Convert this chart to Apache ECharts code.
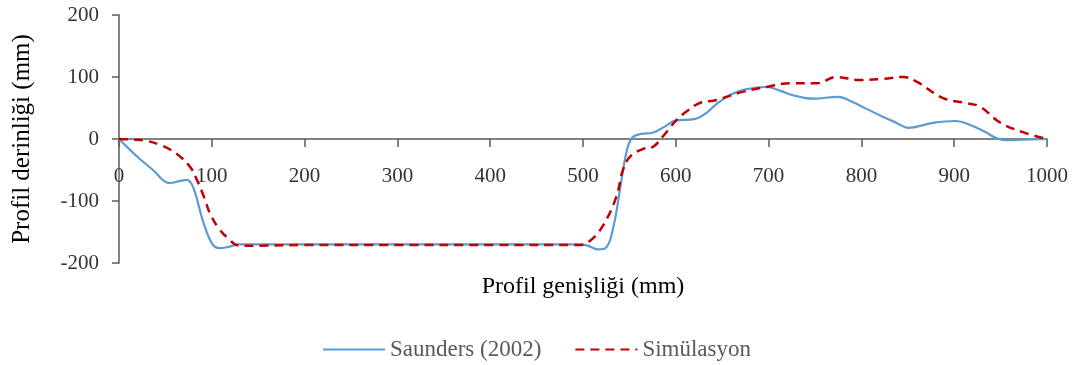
<!DOCTYPE html>
<html><head><meta charset="utf-8">
<script src="https://cdn.jsdelivr.net/npm/echarts@6/dist/echarts.min.js"></script>
<style>html,body{margin:0;padding:0;background:#fff}#c{width:1073px;height:365px}</style>
</head><body><div id="c"></div>
<script>
const saundersX=[0,20,38,48,55,65,73,80,90,100,108,118,130,200,300,400,495,505,516,525,533,540,547,553,562,575,588,600,620,633,645,660,675,698,712,725,748,775,790,805,823,838,850,877,901,920,935,946,957,975,1000];
const saundersY=[0,-29,-52,-67,-71,-68,-66,-78,-130,-168,-176,-174,-170,-170,-170,-170,-170,-172,-178,-175,-140,-80,-20,2,8,10,20,30,32,42,58,72,80,84,78,71,65,68,60,49,36,26,18,26,29,21,10,1,-2,-1,0];
const simX=[0,15,30,45,55,68,78,84,92,98,107,116,130,150,200,300,400,495,507,521,536,543,551,565,576,586,601,613,626,644,672,698,723,752,773,798,823,845,860,888,913,928,949,974,1000];
const simY=[0,-1,-3,-10,-17,-31,-48,-66,-95,-120,-143,-158,-172,-172,-171,-171,-171,-171,-165,-141,-93,-50,-28,-16,-12,4,31,46,58,63,76,84,90,90,100,95,97,100,92,66,58,52,27,11,0];
const seriesNames=['Saunders (2002)','Simülasyon'];
const xName='Profil genişliği (mm)', yName='Profil derinliği (mm)';
const zip=(a,b)=>a.map((v,i)=>[v,b[i]]);
const font='"Liberation Serif","Times New Roman",serif';
const chart=echarts.init(document.getElementById('c'));
chart.setOption({
  animation:false,
  grid:{left:119,right:26,top:15,bottom:102,containLabel:false,outerBoundsMode:'none'},
  legend:{top:333,left:'center',itemWidth:62,itemHeight:12,itemGap:33,
    itemStyle:{opacity:0},
    textStyle:{fontFamily:font,fontSize:23,color:'#595959'},
    data:seriesNames},
  xAxis:{type:'value',min:0,max:1000,interval:100,
    name:xName,nameLocation:'middle',nameGap:12,
    nameTextStyle:{fontFamily:font,fontSize:24,color:'#000'},
    axisLine:{onZero:true,lineStyle:{color:'#5a5a5a',width:1.5}},
    axisTick:{show:true,inside:false,length:8,lineStyle:{color:'#5a5a5a',width:1.5}},
    axisLabel:{fontFamily:font,fontSize:21,color:'#333',margin:-97,formatter:v=>String(v)},
    splitLine:{show:false}},
  yAxis:{type:'value',min:-200,max:200,interval:100,
    name:yName,nameLocation:'middle',nameGap:84,
    nameTextStyle:{fontFamily:font,fontSize:25,color:'#000'},
    axisLine:{show:true,lineStyle:{color:'#5a5a5a',width:1.5}},
    axisTick:{show:true,length:7,lineStyle:{color:'#5a5a5a',width:1.5}},
    axisLabel:{fontFamily:font,fontSize:21,color:'#333',margin:20,formatter:v=>String(v)},
    splitLine:{show:false}},
  series:[
    {name:seriesNames[0],type:'line',data:zip(saundersX,saundersY),smooth:0.4,symbol:'none',
      lineStyle:{color:'#5B9BD5',width:2.2},itemStyle:{color:'#5B9BD5'}},
    {name:seriesNames[1],type:'line',data:zip(simX,simY),smooth:0.4,symbol:'none',
      lineStyle:{color:'#C00000',width:2.5,type:[9,6]},itemStyle:{color:'#C00000'}}
  ]
});
</script></body></html>
